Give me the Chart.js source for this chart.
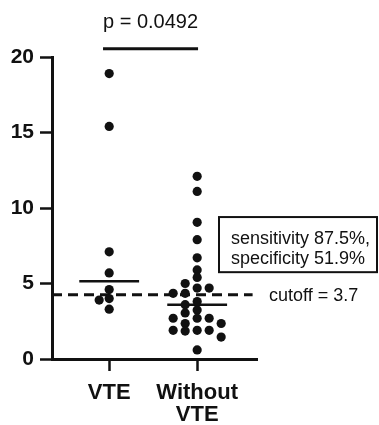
<!DOCTYPE html>
<html><head><meta charset="utf-8">
<script src="https://cdn.jsdelivr.net/npm/chart.js@4/dist/chart.umd.min.js"></script>
<style>html,body{margin:0;padding:0;background:#fff;}#wrap{width:379px;height:425px;position:relative;}</style>
</head><body><div id="wrap"><canvas id="c" width="379" height="425"></canvas></div>
<script>
// ---- data ----
const categories = [['VTE'], ['Without', 'VTE']];
const vteValues = [18.9, 15.4, 7.1, 5.7, 4.6, 4.0, 3.9, 3.3];
const withoutVteValues = [12.1, 11.1, 9.05, 7.9, 6.7, 5.9, 5.4, 5.0, 4.7, 4.7, 4.35, 4.35, 3.8, 3.6, 3.25, 3.05, 2.7, 2.7, 2.7, 2.35, 2.35, 1.9, 1.9, 1.9, 1.85, 1.45, 0.6];
const yTicks = [0, 5, 10, 15, 20];
const cutoffValue = 4.25;
const cutoffLabel = 'cutoff = 3.7';
const pValueLabel = 'p = 0.0492';
const statLines = ['sensitivity 87.5%,', 'specificity 51.9%'];

function median(a) {
  const s = [...a].sort((p, q) => p - q);
  const n = s.length;
  return n % 2 ? s[(n - 1) / 2] : (s[n / 2 - 1] + s[n / 2]) / 2;
}

const INK = '#111';
const FONT = "'Liberation Sans', Arial, Helvetica, sans-serif";
const X_MIN = 0.35, X_MAX = 2.68;
const HALF = 0.34;
const mVte = median(vteValues), mWo = median(withoutVteValues);

const annot = {
  id: 'annot',
  afterDraw(chart) {
    const ctx = chart.ctx, xs = chart.scales.x, ys = chart.scales.y, ca = chart.chartArea;
    ctx.save();
    ctx.fillStyle = INK;
    ctx.font = '20px ' + FONT;
    ctx.textAlign = 'center';
    ctx.textBaseline = 'alphabetic';
    const bx = (xs.getPixelForValue(0.93) + xs.getPixelForValue(2.01)) / 2;
    ctx.fillText(pValueLabel, bx, ys.getPixelForValue(20.55) - 21);
    const top = ys.getPixelForValue(9.4), bot = ys.getPixelForValue(5.75);
    const left = ca.right - 38, right = chart.width - 2;
    ctx.strokeStyle = INK;
    ctx.lineWidth = 2;
    ctx.strokeRect(left, top, right - left, bot - top);
    ctx.font = '18px ' + FONT;
    ctx.textAlign = 'left';
    ctx.fillText(statLines[0], left + 12, top + 27);
    ctx.fillText(statLines[1], left + 12, top + 47);
    ctx.fillText(cutoffLabel, ca.right + 12, ys.getPixelForValue(cutoffValue) + 6.5);
    ctx.restore();
  }
};

const lineDs = (data, extra) => Object.assign({
  data, showLine: true, pointRadius: 0, borderColor: INK, backgroundColor: INK,
  borderWidth: 2.5, fill: false
}, extra || {});

const chart = new Chart(document.getElementById('c'), {
  type: 'scatter',
  data: {
    datasets: [
      { data: vteValues.map(v => ({ x: 1, y: v })), pointRadius: 4.6, pointBackgroundColor: INK, pointBorderWidth: 0, showLine: false },
      { data: withoutVteValues.map(v => ({ x: 2, y: v })), pointRadius: 4.6, pointBackgroundColor: INK, pointBorderWidth: 0, showLine: false },
      lineDs([{ x: 1 - HALF, y: mVte }, { x: 1 + HALF, y: mVte }]),
      lineDs([{ x: 2 - HALF, y: mWo }, { x: 2 + HALF, y: mWo }]),
      lineDs([{ x: X_MIN, y: cutoffValue }, { x: 2.63, y: cutoffValue }], { borderWidth: 3, borderDash: [10, 6] }),
      lineDs([{ x: 0.93, y: 20.55 }, { x: 2.01, y: 20.55 }], { borderWidth: 3, clip: false })
    ]
  },
  options: {
    responsive: false,
    animation: false,
    devicePixelRatio: 1,
    layout: { padding: { top: 57, right: 122, left: 0, bottom: 0 } },
    plugins: { legend: { display: false }, tooltip: { enabled: false } },
    scales: {
      x: {
        type: 'linear', min: X_MIN, max: X_MAX,
        afterBuildTicks: s => { s.ticks = [{ value: 1 }, { value: 2 }]; },
        afterFit: s => { s.height = 66; },
        ticks: {
          callback: v => categories[Math.round(v) - 1],
          color: INK, font: { family: FONT, size: 22, weight: 'bold', lineHeight: 1.0 }, padding: 11,
          maxRotation: 0, autoSkip: false
        },
        grid: { drawOnChartArea: false, drawTicks: true, tickLength: 12, tickColor: INK, tickWidth: 2.5, color: INK },
        border: { display: true, color: INK, width: 3 }
      },
      y: {
        min: 0, max: 20,
        afterBuildTicks: s => { s.ticks = yTicks.map(v => ({ value: v })); },
        afterFit: s => { s.width = 52; },
        ticks: { color: INK, font: { family: FONT, size: 21, weight: 'bold' }, padding: 6 },
        grid: { drawOnChartArea: false, drawTicks: true, tickLength: 12, tickColor: INK, tickWidth: 2.5, color: INK },
        border: { display: true, color: INK, width: 3 }
      }
    }
  },
  plugins: [annot]
});

// beeswarm offsets computed from the scales' pixel positions
function swarm(values, center, slotPx, minDy) {
  const xs = chart.scales.x, ys = chart.scales.y;
  const pxPerUnit = xs.getPixelForValue(1) - xs.getPixelForValue(0);
  const order = values.map((v, i) => i).sort((a, b) => values[b] - values[a]);
  const prefs = [0, -1, 1, -2, 2, -3, 3, -4, 4];
  const placed = {};
  const xOut = new Array(values.length);
  for (const i of order) {
    const py = ys.getPixelForValue(values[i]);
    for (const s of prefs) {
      const list = placed[s] || (placed[s] = []);
      if (list.every(q => Math.abs(q - py) >= minDy)) {
        list.push(py);
        xOut[i] = center + s * slotPx / pxPerUnit;
        break;
      }
    }
  }
  return values.map((v, i) => ({ x: xOut[i], y: v }));
}
chart.data.datasets[0].data = swarm(vteValues, 1, 10, 7);
chart.data.datasets[1].data = swarm(withoutVteValues, 2, 12, 7);
chart.update('none');
</script></body></html>
